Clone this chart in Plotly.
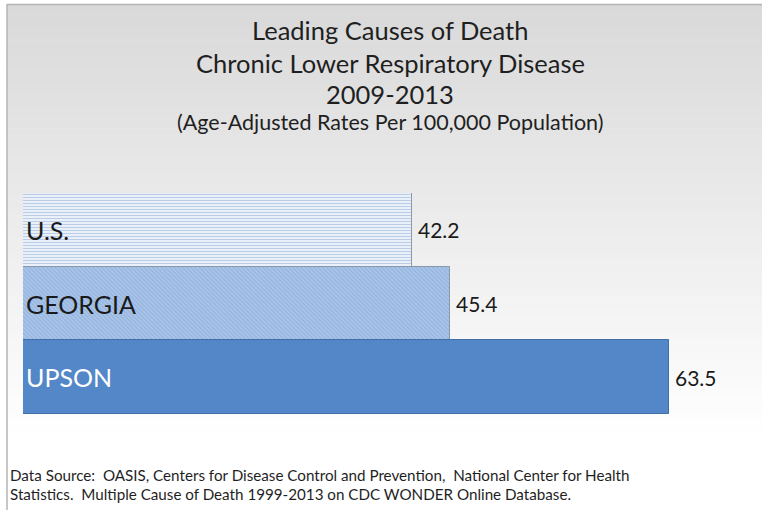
import plotly.graph_objects as go

# Chart data
categories = ["U.S.", "GEORGIA", "UPSON"]
rates = [42.2, 45.4, 63.5]
label_colors = ["#1a1a1a", "#1a1a1a", "#ffffff"]

title_lines = [
    "Leading Causes of Death",
    "Chronic Lower Respiratory Disease",
    "2009-2013",
]
subtitle = "(Age-Adjusted Rates Per 100,000 Population)"
source_lines = [
    "Data Source:  OASIS, Centers for Disease Control and Prevention,  National Center for Health",
    "Statistics.  Multiple Cause of Death 1999-2013 on CDC WONDER Online Database.",
]

# Per-bar fill styles: (base colour, outline colour, pattern shape, pattern colour)
bar_styles = [
    ("#e9f0fa", "#8f9aa8", "-", "#b5c8e4"),
    ("#a9c4e8", "#8a97a8", "\\", "#8eaedb"),
    ("#5387c8", "#3f6fa8", "", "#5387c8"),
]

W, H = 762, 510
FONT = "Lato"


def px(v):
    return v / W


def py(v):
    return 1 - v / H


fig = go.Figure()

for cat, val, (base, edge, shape, fg) in zip(categories, rates, bar_styles):
    fig.add_trace(go.Bar(
        y=[cat],
        x=[val],
        orientation="h",
        marker=dict(
            color=base,
            line=dict(color=edge, width=1),
            pattern=dict(shape=shape, fgcolor=fg, fgopacity=1,
                         size=3, solidity=0.3, fillmode="overlay"),
        ),
        hoverinfo="skip",
        showlegend=False,
    ))

# Value labels just past the bar ends
for cat, val in zip(categories, rates):
    fig.add_annotation(
        x=val, y=cat, xref="x", yref="y",
        text=f"{val:.1f}", showarrow=False,
        xanchor="left", xshift=4,
        font=dict(family=FONT, size=21, color="#1a1a1a"),
    )

# Category names drawn inside the bars at the left
for cat, col in zip(categories, label_colors):
    fig.add_annotation(
        x=px(24), y=cat, xref="paper", yref="y",
        text=cat, showarrow=False, xanchor="left",
        font=dict(family=FONT, size=25, color=col),
    )

# Title block
for line, yc in zip(title_lines, [30, 63, 94]):
    fig.add_annotation(
        x=px(390), y=py(yc), xref="paper", yref="paper",
        text=line, showarrow=False, xanchor="center", yanchor="middle",
        font=dict(family=FONT, size=25.5, color="#1f1f1f"),
    )
fig.add_annotation(
    x=px(390), y=py(122), xref="paper", yref="paper",
    text=subtitle, showarrow=False, xanchor="center", yanchor="middle",
    font=dict(family=FONT, size=21.5, color="#1f1f1f"),
)

# Source note
for line, yc in zip(source_lines, [475, 494]):
    fig.add_annotation(
        x=px(8), y=py(yc), xref="paper", yref="paper",
        text=line, showarrow=False, xanchor="left", yanchor="middle",
        font=dict(family=FONT, size=15.2, color="#1f1f1f"),
    )

# Soft vertical gradient behind the chart (grey at the top fading to white)
shapes = []
n = 60
top, bottom = 5, 440
c0, c1 = 0xD9, 0xFF
for i in range(n):
    y0 = top + (bottom - top) * i / n
    y1 = top + (bottom - top) * (i + 1) / n + 0.5
    c = round(c0 + (c1 - c0) * i / (n - 1))
    shapes.append(dict(
        type="rect", xref="paper", yref="paper", layer="below",
        x0=px(7), x1=1, y0=py(y1), y1=py(y0),
        fillcolor=f"rgb({c},{c},{c})", line=dict(width=0),
    ))
# Frame lines on the top and left edges
shapes.append(dict(type="line", xref="paper", yref="paper", layer="above",
                   x0=px(7), x1=1, y0=py(4.5), y1=py(4.5),
                   line=dict(color="#b4b4b4", width=1.5)))
shapes.append(dict(type="line", xref="paper", yref="paper", layer="above",
                   x0=px(7), x1=px(7), y0=py(4), y1=0,
                   line=dict(color="#b4b4b4", width=1.5)))

fig.update_layout(
    width=W, height=H,
    margin=dict(l=0, r=0, t=0, b=0),
    paper_bgcolor="#ffffff",
    plot_bgcolor="rgba(0,0,0,0)",
    barmode="overlay",
    bargap=0,
    shapes=shapes,
    xaxis=dict(
        domain=[px(23), px(759)],
        range=[10, 71],
        visible=False,
        fixedrange=True,
    ),
    yaxis=dict(
        domain=[py(414), py(193)],
        categoryorder="array",
        categoryarray=categories,
        autorange="reversed",
        visible=False,
        fixedrange=True,
    ),
)

fig.write_html("out.html", config={"displayModeBar": False})
